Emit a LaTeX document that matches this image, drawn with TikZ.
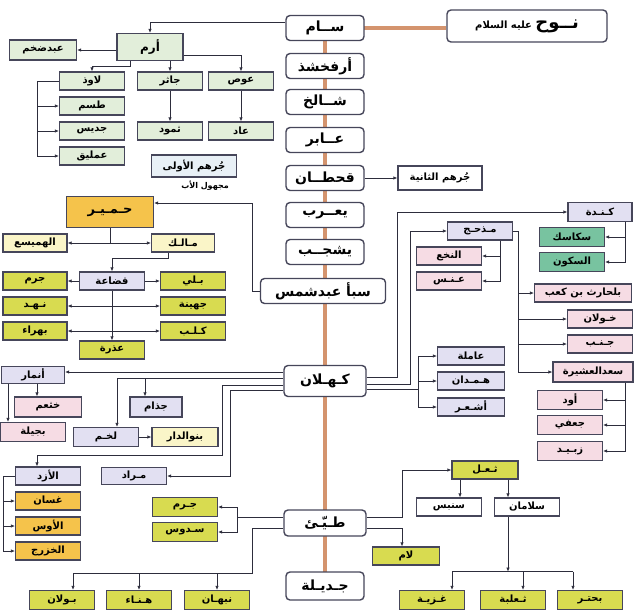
\documentclass[tikz,border=0pt]{standalone}
\usepackage{fontspec}
\newfontfamily\arabicfont[Script=Arabic]{DejaVu Sans}
\TeXXeTstate=1
\usetikzlibrary{arrows.meta,backgrounds}

\definecolor{spinecol}{RGB}{212,148,110}
\definecolor{boxline}{RGB}{70,70,90}
\definecolor{linecol}{RGB}{45,45,60}
\definecolor{greenbox}{RGB}{226,238,218}
\definecolor{lavbox}{RGB}{226,224,242}
\definecolor{pinkbox}{RGB}{246,220,228}
\definecolor{paleyel}{RGB}{250,245,200}
\definecolor{olive}{RGB}{216,219,80}
\definecolor{orangebox}{RGB}{245,195,75}
\definecolor{tealbox}{RGB}{120,195,160}
\definecolor{bluebox}{RGB}{232,240,246}

\newcommand{\arb}[1]{{\arabicfont\bfseries\beginR #1\endR}}

\tikzset{
  main/.style={draw=boxline, line width=1.4pt, rounded corners=4pt, fill=white,
    minimum width=78pt, minimum height=25pt, inner sep=1pt,
    font=\fontsize{14}{16}\selectfont},
  box/.style={draw=boxline, line width=1.2pt, minimum width=65pt, minimum height=18pt,
    inner sep=1pt, font=\fontsize{10}{12}\selectfont},
  link/.style={draw=linecol, line width=0.7pt},
  arr/.style={link, -{Latex[length=4pt,width=3.5pt]}},
  spine/.style={draw=spinecol, line width=4.5pt}
}

\begin{document}
\begin{tikzpicture}[x=1pt, y=-1pt]
  \useasboundingbox (0,0) rectangle (636,610);

  % Main line
  \node[main, minimum width=160pt, minimum height=32pt, font=\fontsize{10}{12}\selectfont] (nuh) at (527,26)
    {\arb{{\fontsize{18}{20}\selectfont نــوح} عليه السلام}};
  \foreach \n/\t/\y in {sam/ســام/28, arfakhshad/أرفخشذ/66, shalikh/شــالخ/102,
      abir/عــابر/140, qahtan/قحطــان/178, yarub/يعــرب/215, yashjub/يشجــب/252}
    \node[main] (\n) at (325,\y) {\arb{\t}};
  \node[main, minimum width=125pt] (saba) at (323,291) {\arb{سبأ عبدشمس}};
  \node[main, minimum width=82pt, minimum height=31pt] (kahlan) at (325,381) {\arb{كـهـلان}};
  \node[main, minimum width=82pt, minimum height=26pt] (tayy) at (325,523) {\arb{طـيّـئ}};
  \node[main, minimum height=28pt] (jadila) at (325,586) {\arb{جـديـلة}};
  \begin{pgfonlayer}{background}
    \draw[spine] (sam.center) -- (sam.center -| nuh.west);
    \draw[spine] (sam.center) -- (jadila.center);
  \end{pgfonlayer}

  % Aram
  \node[box, fill=greenbox, minimum width=66pt, minimum height=27pt, font=\fontsize{12}{14}\selectfont] (aram) at (150,47) {\arb{أرم}};
  \node[box, fill=greenbox, minimum width=67pt, minimum height=20pt] (abdudakhm) at (43,50) {\arb{عبدضخم}};
  \foreach \n/\t/\x in {lawudh/لاوذ/92, jathir/جاثر/170, aws/عوص/241}
    \node[box, fill=greenbox] (\n) at (\x,81) {\arb{\t}};
  \foreach \n/\t/\y in {tasm/طسم/106, jadis/جديس/131, amliq/عمليق/156}
    \node[box, fill=greenbox] (\n) at (92,\y) {\arb{\t}};
  \node[box, fill=greenbox] (thamud) at (170,131) {\arb{ثمود}};
  \node[box, fill=greenbox] (ad) at (241,131) {\arb{عاد}};
  \node[box, fill=bluebox, minimum width=85pt, minimum height=22pt] (jurhuma) at (194,166) {\arb{جُرهم الأولى}};
  \node[font=\fontsize{8}{10}\selectfont, inner sep=0pt] (majhul) at (205,186) {\arb{مجهول الأب}};

  \draw[arr] ([yshift=6pt]sam.west) -| (aram.north);
  \draw[arr] (aram.west |- abdudakhm) -- (abdudakhm.east);
  \draw[arr] ([yshift=-8pt]aram.east) -| (aws.north);
  \draw[arr] (aram.south -| jathir) -- (jathir.north);
  \draw[arr] ([xshift=-20pt]aram.south) -- ++(0,5) -| (lawudh.north);
  \draw[link] (lawudh.west) -- ++(-22,0) coordinate (lw);
  \foreach \n in {tasm, jadis, amliq}
    \draw[arr] (lw) |- (\n.west);
  \draw[arr] (jathir) -- (thamud);
  \draw[arr] (aws) -- (ad);

  % Himyar
  \node[box, fill=orangebox, minimum width=87pt, minimum height=31pt, font=\fontsize{13}{15}\selectfont] (himyar) at (110,212) {\arb{حـمـيـر}};
  \node[box, fill=paleyel, minimum width=64pt] (hamaysa) at (35,243) {\arb{الهميسع}};
  \node[box, fill=paleyel, minimum width=63pt] (malik) at (183,243) {\arb{مـالـك}};
  \node[box, fill=lavbox] (qudaa) at (112,281) {\arb{قضاعة}};
  \foreach \n/\t/\y in {jurma/جرم/281, nahd/نـهـد/306, bahra/بهراء/331}
    \node[box, fill=olive, minimum width=64pt] (\n) at (35,\y) {\arb{\t}};
  \foreach \n/\t/\y in {bali/بـلي/281, juhayna/جهينة/306, kalb/كـلـب/331}
    \node[box, fill=olive] (\n) at (193,\y) {\arb{\t}};
  \node[box, fill=olive] (udhra) at (112,350) {\arb{عذرة}};

  \draw[arr] (saba.west) -- ++(-7,0) |- ([yshift=9pt]himyar.east);
  \draw[link] (himyar.south) -- (himyar.south |- hamaysa) coordinate (hm);
  \draw[arr] (hm) -- (hamaysa.east);
  \draw[arr] (hm) -- (malik.west);
  \draw[arr] ([xshift=-15pt]malik.south) -- ++(0,6) -| (qudaa.north);
  \draw[arr] (qudaa.west) -- (jurma.east);
  \draw[arr] (qudaa.east) -- (bali.west);
  \draw[arr] (qudaa.south) -- (udhra.north);
  \foreach \a/\b in {nahd/juhayna, bahra/kalb} {
    \draw[arr] (qudaa.south |- \a) -- (\a.east);
    \draw[arr] (qudaa.south |- \a) -- (\b.west);
  }

  % Kahlan, west side
  \node[box, fill=lavbox, minimum width=63pt, minimum height=17pt] (anmar) at (33,375) {\arb{أنمار}};
  \node[box, fill=pinkbox, minimum width=67pt, minimum height=20pt] (khatham) at (48,407) {\arb{خثعم}};
  \node[box, fill=pinkbox, minimum height=19pt] (bajila) at (33,432) {\arb{بجيلة}};
  \node[box, fill=lavbox, minimum width=52pt, minimum height=20pt] (judham) at (156,407) {\arb{جذام}};
  \node[box, fill=lavbox, minimum height=19pt] (lakhm) at (106,437) {\arb{لخـم}};
  \node[box, fill=paleyel, minimum width=66pt, minimum height=19pt] (banuldar) at (185,437) {\arb{بنوالدار}};
  \node[box, fill=lavbox] (azd) at (48,476) {\arb{الأزد}};
  \node[box, fill=lavbox, minimum height=17pt] (murad) at (134,476) {\arb{مـراد}};
  \foreach \n/\t/\y in {ghassan/غسان/501, awsb/الأوس/526, khazraj/الخزرج/551}
    \node[box, fill=orangebox] (\n) at (48,\y) {\arb{\t}};

  \draw[arr] ([yshift=9pt]kahlan.west) -- ([yshift=9pt]kahlan.west -| anmar.east);
  \path ([yshift=3pt]kahlan.west) coordinate (kw)
        ([xshift=-11pt]judham.north) coordinate (jn);
  \draw[arr] (kw) -| ([xshift=11pt]lakhm.north);
  \draw[arr] (kw -| jn) -- (jn);
  \path ([xshift=4pt]anmar.south) coordinate (an1)
        ([xshift=-25pt]anmar.south) coordinate (an2);
  \draw[arr] (an1) -- (an1 |- khatham.north);
  \draw[arr] (an2) -- (an2 |- bajila.north);
  \draw[arr] (lakhm) -- (banuldar);
  \draw[arr] ([yshift=-4pt]kahlan.west) -| (222,455) -| ([xshift=-11pt]azd.north);
  \draw[arr] ([yshift=-9pt]kahlan.west) -| (230,476) -- (murad.east);
  \draw[link] (azd.west) -- ++(-12,0) coordinate (az);
  \foreach \n in {ghassan, awsb, khazraj}
    \draw[arr] (az) |- (\n.west);

  % Tayy
  \foreach \n/\t/\y in {jurmb/جـرم/507, sadus/سـدوس/532}
    \node[box, fill=olive, minimum height=19pt] (\n) at (185,\y) {\arb{\t}};
  \foreach \n/\t/\x in {bawlan/بـولان/62, hunaa/هـنـاء/139, nabhan/نبهـان/217}
    \node[box, fill=olive, minimum height=19pt] (\n) at (\x,600) {\arb{\t}};
  \node[box, fill=olive, minimum width=66pt] (thual) at (485,470) {\arb{ثـعـل}};
  \node[box, fill=white] (sinbis) at (449,507) {\arb{سنبس}};
  \node[box, fill=white] (salaman) at (527,507) {\arb{سلامان}};
  \node[box, fill=olive, minimum width=67pt] (lam) at (406,556) {\arb{لام}};
  \foreach \n/\t/\x in {ghaziyya/غـزيـة/432, thalaba/ثـعلبة/513, buhtur/بحتـر/590}
    \node[box, fill=olive, minimum height=19pt] (\n) at (\x,600) {\arb{\t}};

  \draw[link] ([yshift=6pt]tayy.west) -- ++(-46,0) coordinate (tw);
  \foreach \n in {jurmb, sadus}
    \draw[arr] (tw) |- (\n.east);
  \path ([xshift=11pt]bawlan.north) coordinate (bn);
  \draw[link] ([yshift=-5pt]tayy.west) -| (252,573) coordinate (tb) -- (tb -| bn);
  \draw[arr] (tb -| bn) -- (bn);
  \foreach \n in {hunaa, nabhan}
    \draw[arr] (tb -| \n.north) -- (\n.north);
  \draw[arr] ([yshift=6pt]tayy.east) -| (402,470) -- (thual.west);
  \draw[arr] ([yshift=-5pt]tayy.east) -| ([xshift=-4pt]lam.north);
  \path ([xshift=-25pt]thual.south) coordinate (t1)
        ([xshift=23pt]thual.south) coordinate (t2);
  \draw[arr] (t1) -- (t1 |- sinbis.north);
  \draw[arr] (t2) -- (t2 |- salaman.north);
  \draw[arr] ([xshift=-19pt]salaman.south) -- ++(0,55) coordinate (sb);
  \path ([xshift=20pt]ghaziyya.north) coordinate (g1)
        ([xshift=10pt]thalaba.north) coordinate (g2)
        ([xshift=-17pt]buhtur.north) coordinate (g3);
  \draw[link] (sb -| g1) -- (sb -| g3);
  \foreach \g in {g1, g2, g3}
    \draw[arr] (sb -| \g) -- (\g);

  % Qahtan, Kinda, Madhhij
  \node[box, fill=white, minimum width=84pt, minimum height=24pt] (jurhumb) at (440,178) {\arb{جُرهم الثانية}};
  \draw[arr] (qahtan) -- (jurhumb);
  \node[box, fill=lavbox, minimum width=64pt, minimum height=19pt] (kinda) at (600,212) {\arb{كـنـدة}};
  \foreach \n/\t/\y in {sakasik/سكاسك/237, sakun/السكون/262}
    \node[box, fill=tealbox, minimum height=19pt] (\n) at (572,\y) {\arb{\t}};
  \node[box, fill=lavbox] (madhhij) at (480,231) {\arb{مـذحـج}};
  \foreach \n/\t/\y in {nakha/النخع/256, ans/عـنـس/281}
    \node[box, fill=pinkbox] (\n) at (449,\y) {\arb{\t}};
  \node[box, fill=pinkbox, minimum width=97pt] (balharith) at (583,293) {\arb{بلحارث بن كعب}};
  \foreach \n/\t/\y in {khawlan/خـولان/319, janb/جـنـب/344}
    \node[box, fill=pinkbox] (\n) at (600,\y) {\arb{\t}};
  \node[box, fill=pinkbox, minimum width=80pt, minimum height=20pt] (saad) at (593,372) {\arb{سعدالعشيرة}};
  \foreach \n/\t/\y in {awd/أود/400, jufi/جعفي/425, zubayd/زبـيـد/451}
    \node[box, fill=pinkbox, minimum height=19pt] (\n) at (570,\y) {\arb{\t}};
  \foreach \n/\t/\y in {amila/عاملة/356, hamdan/هـمـدان/381, ashar/أشـعـر/407}
    \node[box, fill=lavbox, minimum width=67pt] (\n) at (471,\y) {\arb{\t}};

  \draw[arr] ([yshift=4pt]kahlan.east) -| (397,212) -- (kinda.west);
  \draw[arr] ([yshift=-3pt]kahlan.east) -| (410,231) -- (madhhij.west);
  \draw[link] ([yshift=-8pt]kahlan.east) -- ++(52,0) coordinate (ke);
  \foreach \n in {amila, hamdan, ashar}
    \draw[arr] (ke) |- (\n.west);
  \path ([xshift=25pt]kinda.south) coordinate (kd);
  \foreach \n in {sakasik, sakun}
    \draw[arr] (kd) |- (\n.east);
  \path ([xshift=20pt]madhhij.south) coordinate (md);
  \foreach \n in {nakha, ans}
    \draw[arr] (md) |- (\n.east);
  \draw[link] (madhhij.east) -- ++(5,0) coordinate (mr);
  \foreach \n in {balharith, khawlan, janb, saad}
    \draw[arr] (mr) |- (\n.west);
  \path ([xshift=32pt]saad.south) coordinate (sd);
  \foreach \n in {awd, jufi, zubayd}
    \draw[arr] (sd) |- (\n.east);
\end{tikzpicture}
\end{document}
